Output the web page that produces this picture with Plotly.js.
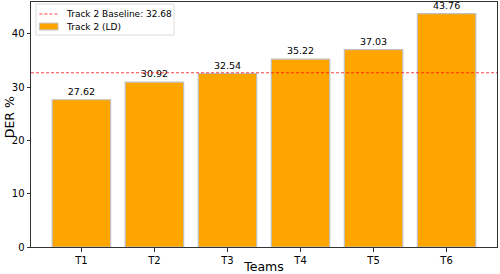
<!DOCTYPE html>
<html><head><meta charset="utf-8">
<script src="https://cdn.plot.ly/plotly-3.0.1.min.js"></script>
<style>html,body{margin:0;padding:0;background:#fff}#c{width:500px;height:274px}</style>
</head><body><div id="c"></div>
<script>
const teams = ["T1","T2","T3","T4","T5","T6"];
const der = [27.62, 30.92, 32.54, 35.22, 37.03, 43.76];
const baseline = 32.68;
const yTicks = [0, 10, 20, 30, 40];
const baselineLabel = "Track 2 Baseline: " + baseline.toFixed(2);
const barLabel = "Track 2 (LD)";

const font = "DejaVu Sans, sans-serif";
const red = "rgba(255,0,0,0.75)";
const orange = "#FFA500";
const edge = "#c0c0c0";
const baseTrace = {type:"scatter", mode:"lines", x:[-0.69, 5.69], y:[baseline, baseline],
   name:baselineLabel, showlegend:false,
   line:{color:red, width:1.2, dash:"3px,2px"}};
const barTrace = {type:"bar", x:[0,1,2,3,4,5], y:der, name:barLabel, width:0.8, showlegend:false,
   marker:{color:orange, line:{color:edge, width:1.2}},
   text:der.map(v=>v.toFixed(2)), textposition:"outside", cliponaxis:false,
   textfont:{family:font, size:9.5, color:"#000"}};
const data = [barTrace, baseTrace];

// custom legend box (paper coordinates)
const shapes = [
  {type:"rect", xref:"paper", yref:"paper", x0:0.0107, x1:0.307, y0:0.865, y1:0.992,
   fillcolor:"rgba(255,255,255,0.8)", line:{color:"#dcdcdc", width:1}, layer:"above"},
  {type:"line", xref:"paper", yref:"paper", x0:0.018, x1:0.058, y0:0.951, y1:0.951,
   line:{color:red, width:1.2, dash:"3px,2px"}, layer:"above"},
  {type:"rect", xref:"paper", yref:"paper", x0:0.018, x1:0.058, y0:0.886, y1:0.914,
   fillcolor:orange, line:{color:edge, width:1}, layer:"above"}
];
const annotations = [
  {xref:"paper", yref:"paper", x:0.07, y:0.951, xanchor:"left", yanchor:"middle",
   text:baselineLabel, showarrow:false, font:{family:font, size:9, color:"#000"}},
  {xref:"paper", yref:"paper", x:0.07, y:0.898, xanchor:"left", yanchor:"middle",
   text:barLabel, showarrow:false, font:{family:font, size:9, color:"#000"}},
  {xref:"paper", yref:"paper", x:-0.047, y:0.53, xanchor:"center", yanchor:"middle",
   text:"DER %", textangle:-90, showarrow:false, borderpad:0,
   font:{family:font, size:12.5, color:"#000"}}
];

const layout = {
  width:500, height:274,
  margin:{l:31, r:3, t:2, b:27, pad:0},
  paper_bgcolor:"#fff", plot_bgcolor:"#fff",
  font:{family:font, size:10, color:"#000"},
  showlegend:false,
  shapes:shapes, annotations:annotations,
  xaxis:{range:[-0.69, 5.69], tickmode:"array", tickvals:[0,1,2,3,4,5], ticktext:teams,
    showgrid:false, zeroline:false, showline:true, mirror:true, linecolor:"#333", linewidth:1,
    ticks:"outside", ticklen:3.5, tickcolor:"#333",
    tickfont:{family:font, size:10},
    title:{text:"Teams", font:{family:font, size:12.5}, standoff:3}},
  yaxis:{range:[0, 45.95], tickmode:"array", tickvals:yTicks,
    showgrid:false, zeroline:false, showline:true, mirror:true, linecolor:"#333", linewidth:1,
    ticks:"outside", ticklen:3.5, tickcolor:"#333",
    tickfont:{family:font, size:10}},
  bargap:0.2
};
Plotly.newPlot("c", data, layout, {staticPlot:true, displayModeBar:false});
</script></body></html>
